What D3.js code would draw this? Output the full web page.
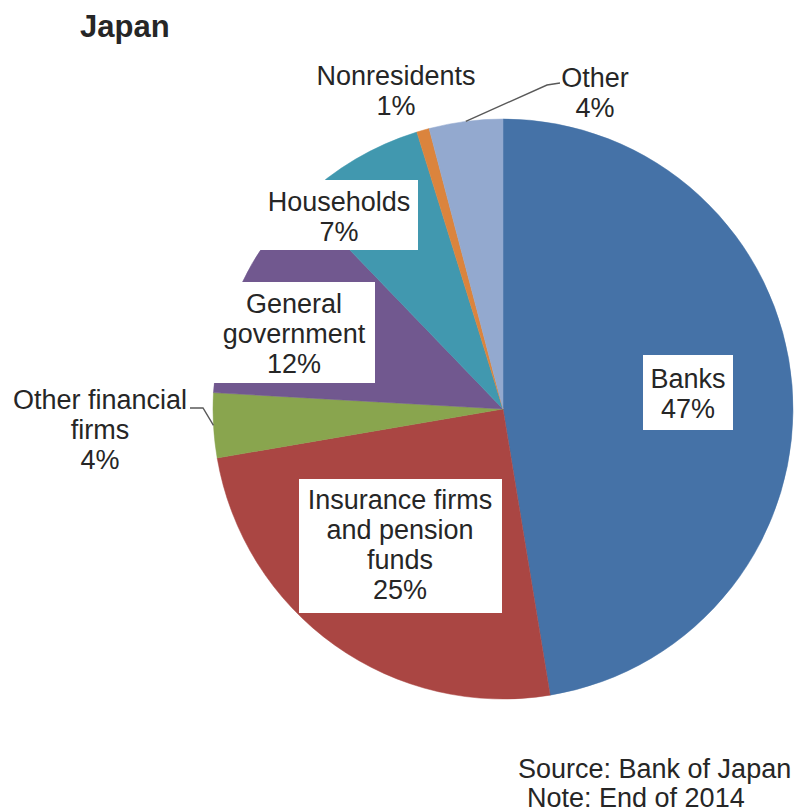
<!DOCTYPE html>
<html>
<head>
<meta charset="utf-8">
<script src="https://cdn.jsdelivr.net/npm/d3@7"></script>
<style>
  html, body { margin: 0; padding: 0; background: #ffffff; }
  svg { display: block; }
  text { font-family: "Liberation Sans", Arial, sans-serif; fill: #262626; }
</style>
</head>
<body>
<svg id="chart" width="794" height="812"></svg>
<script>
// ---- Data ----
const categories = ["Banks", "Insurance firms and pension funds", "Other financial firms",
                    "General government", "Households", "Nonresidents", "Other"];
const shares = [47.4, 24.9, 3.6, 11.9, 7.4, 0.7, 4.1];
const shareLabels = ["47%", "25%", "4%", "12%", "7%", "1%", "4%"];
const labelLines = [
  ["Banks"],
  ["Insurance firms", "and pension", "funds"],
  ["Other financial", "firms"],
  ["General", "government"],
  ["Households"],
  ["Nonresidents"],
  ["Other"]
];
const colors = ["#4572A7", "#AA4643", "#89A54E", "#71588F", "#4198AF", "#DB843D", "#93A9CF"];
const title = "Japan";
const notes = ["Source: Bank of Japan", "Note: End of 2014"];

// ---- Layout (label placement) ----
const cx = 503, cy = 409, R = 290;
const lineH = 30;
const fontSize = 27;
const labelLayout = [
  { x: 688, y: 388, box: [643, 355, 90, 75] },
  { x: 400, y: 509, box: [299, 479, 203, 134] },
  { x: 100, y: 409, leader: [[190, 408], [203, 408]] },
  { x: 294, y: 313, box: [213, 282, 162, 101] },
  { x: 339, y: 211, box: [260, 180, 158, 70] },
  { x: 396, y: 85 },
  { x: 595, y: 87, leader: [[560, 83], [547, 85]] }
];

const svg = d3.select("#chart");

const data = categories.map((c, i) => ({ name: c, value: shares[i], i }));
const pie = d3.pie().value(d => d.value).sort(null);
const arcs = pie(data);
const arc = d3.arc().innerRadius(0).outerRadius(R);

const g = svg.append("g").attr("transform", `translate(${cx},${cy})`);
g.selectAll("path.slice")
  .data(arcs)
  .join("path")
  .attr("class", "slice")
  .attr("d", arc)
  .attr("fill", d => colors[d.data.i])
  .attr("stroke", d => colors[d.data.i])
  .attr("stroke-width", 0.5);

// leader lines
arcs.forEach((a, i) => {
  const L = labelLayout[i];
  if (!L.leader) return;
  const mid = (a.startAngle + a.endAngle) / 2;
  const end = [cx + R * Math.sin(mid), cy - R * Math.cos(mid)];
  const pts = L.leader.concat([end]);
  svg.append("path")
    .attr("d", d3.line()(pts))
    .attr("fill", "none")
    .attr("stroke", "#595959")
    .attr("stroke-width", 1.4);
});

// label boxes and text
arcs.forEach((a, i) => {
  const L = labelLayout[i];
  if (L.box) {
    svg.append("rect")
      .attr("x", L.box[0]).attr("y", L.box[1])
      .attr("width", L.box[2]).attr("height", L.box[3])
      .attr("fill", "#ffffff");
  }
  const lines = labelLines[i].concat([shareLabels[i]]);
  const t = svg.append("text")
    .attr("text-anchor", "middle")
    .attr("font-size", fontSize);
  lines.forEach((ln, k) => {
    t.append("tspan").attr("x", L.x).attr("y", L.y + k * lineH).text(ln);
  });
});

// title
svg.append("text")
  .attr("x", 80).attr("y", 37)
  .attr("font-size", 31)
  .attr("font-weight", "bold")
  .text(title);

// source / note
svg.append("text").attr("x", 518).attr("y", 778).attr("font-size", fontSize).text(notes[0]);
svg.append("text").attr("x", 527).attr("y", 807).attr("font-size", fontSize).text(notes[1]);
</script>
</body>
</html>
